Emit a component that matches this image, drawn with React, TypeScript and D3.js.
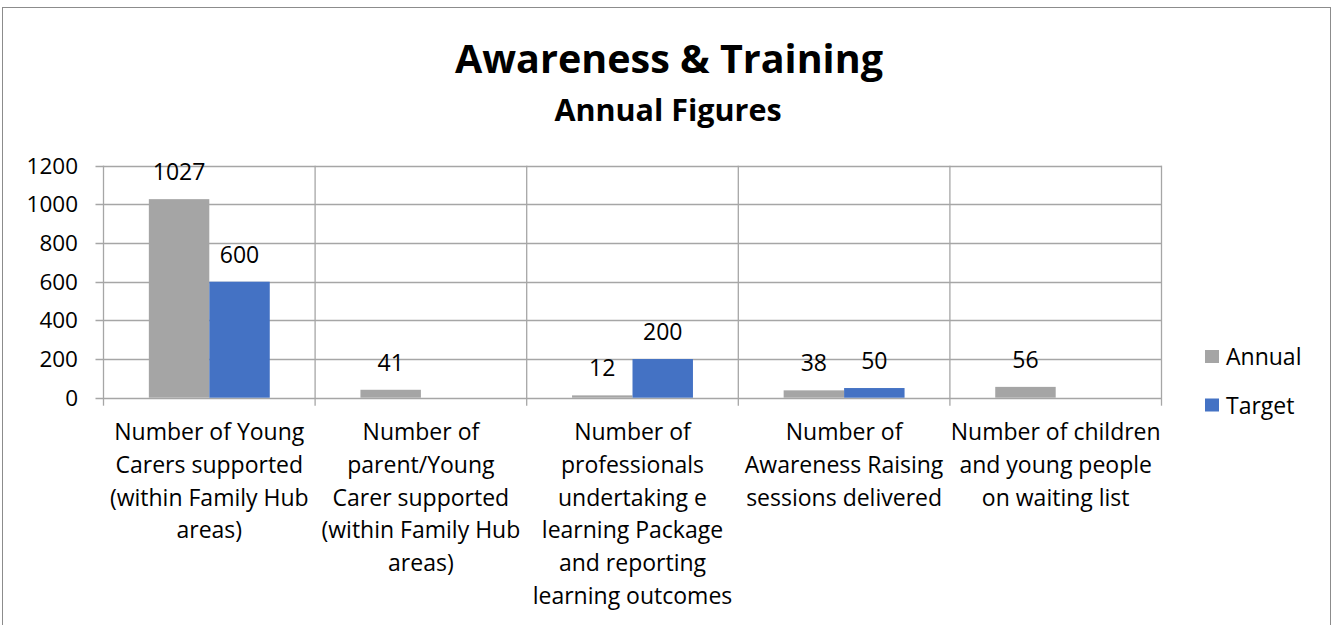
import { useEffect, useRef } from "react";
import * as d3 from "d3";

const categories = [
  ["Number of Young", "Carers supported", "(within Family Hub", "areas)"],
  ["Number of", "parent/Young", "Carer supported", "(within Family Hub", "areas)"],
  ["Number of", "professionals", "undertaking e", "learning Package", "and reporting", "learning outcomes"],
  ["Number of", "Awareness Raising", "sessions delivered"],
  ["Number of children", "and young people", "on waiting list"],
];
const annual = [1027, 41, 12, 38, 56];
const target: (number | null)[] = [600, null, 200, 50, null];
const seriesNames = ["Annual", "Target"];
const colors = ["#A5A5A5", "#4472C4"];
const yTicks = [0, 200, 400, 600, 800, 1000, 1200];

const FONT = "'Open Sans', 'Noto Sans', sans-serif";

const App = () => {
  const svgRef = useRef<SVGSVGElement>(null);

  useEffect(() => {
    const W = 1335, H = 625;
    const svg = d3.select(svgRef.current);
    svg.selectAll("*").remove();
    svg.attr("width", W).attr("height", H).style("font-family", FONT);

    // chart border
    svg.append("rect").attr("x", 2.5).attr("y", 7.5).attr("width", 1328).attr("height", 640)
      .attr("fill", "#fff").attr("stroke", "#8c8c8c").attr("stroke-width", 1);

    svg.append("text").attr("x", 669).attr("y", 73).attr("text-anchor", "middle")
      .attr("font-size", 39.5).attr("font-weight", 700).text("Awareness & Training");
    svg.append("text").attr("x", 668).attr("y", 121).attr("text-anchor", "middle")
      .attr("font-size", 30.5).attr("font-weight", 700).text("Annual Figures");

    const left = 103.5, right = 1161.5, top = 165.7, bottom = 397.7;
    const idx = categories.map((_, i) => String(i));
    const x = d3.scaleBand().domain(idx).range([left, right]).paddingInner(0).paddingOuter(0);
    const inner = d3.scaleBand().domain(seriesNames).range([0, x.bandwidth()]).paddingInner(0).paddingOuter(0.75);
    const y = d3.scaleLinear().domain([0, 1200]).range([bottom, top]);
    const grid = "#A6A6A6";

    // horizontal gridlines + ticks
    svg.append("g").selectAll("line").data(yTicks).join("line")
      .attr("x1", left - 8).attr("x2", right)
      .attr("y1", d => Math.round(y(d)) + 0.5).attr("y2", d => Math.round(y(d)) + 0.5)
      .attr("stroke", grid).attr("stroke-width", 1.3);

    // vertical gridlines at category boundaries
    const bounds = idx.map(i => x(i)!).concat([right]);
    svg.append("g").selectAll("line").data(bounds).join("line")
      .attr("x1", d => d).attr("x2", d => d)
      .attr("y1", top).attr("y2", bottom + 8)
      .attr("stroke", grid).attr("stroke-width", 1.3);

    // y labels
    svg.append("g").selectAll("text").data(yTicks).join("text")
      .attr("x", 78).attr("y", d => y(d) + 8).attr("text-anchor", "end")
      .attr("font-size", 22.5).attr("fill", "#000").text(d => d);

    const data = [annual, target];
    data.forEach((vals, s) => {
      const g = svg.append("g");
      const items = vals.map((v, i) => ({ v, i })).filter(d => d.v != null) as { v: number; i: number }[];
      g.selectAll("rect").data(items).join("rect")
        .attr("x", d => x(String(d.i))! + inner(seriesNames[s])!)
        .attr("width", inner.bandwidth())
        .attr("y", d => y(d.v))
        .attr("height", d => Math.max(bottom - y(d.v), 0))
        .attr("fill", colors[s]);
      g.selectAll("text").data(items).join("text")
        .attr("x", d => x(String(d.i))! + inner(seriesNames[s])! + inner.bandwidth() / 2)
        .attr("y", d => y(d.v) - 19)
        .attr("text-anchor", "middle").attr("font-size", 23)
        .text(d => d.v);
    });

    // category labels
    const cat = svg.append("g");
    categories.forEach((lines, i) => {
      const t = cat.append("text").attr("text-anchor", "middle").attr("font-size", 23);
      lines.forEach((ln, j) => {
        t.append("tspan").attr("x", x(String(i))! + x.bandwidth() / 2).attr("y", 440 + j * 32.8).text(ln);
      });
    });

    // legend
    const lg = svg.append("g");
    seriesNames.forEach((n, i) => {
      lg.append("rect").attr("x", 1205).attr("y", 350 + i * 48.5).attr("width", 14).attr("height", 13).attr("fill", colors[i]);
      lg.append("text").attr("x", 1226).attr("y", 365 + i * 48.5).attr("font-size", 23).text(n);
    });
  }, []);

  return <svg ref={svgRef} style={{ display: "block", position: "absolute", left: 0, top: 0 }}></svg>;
};

export default App;
